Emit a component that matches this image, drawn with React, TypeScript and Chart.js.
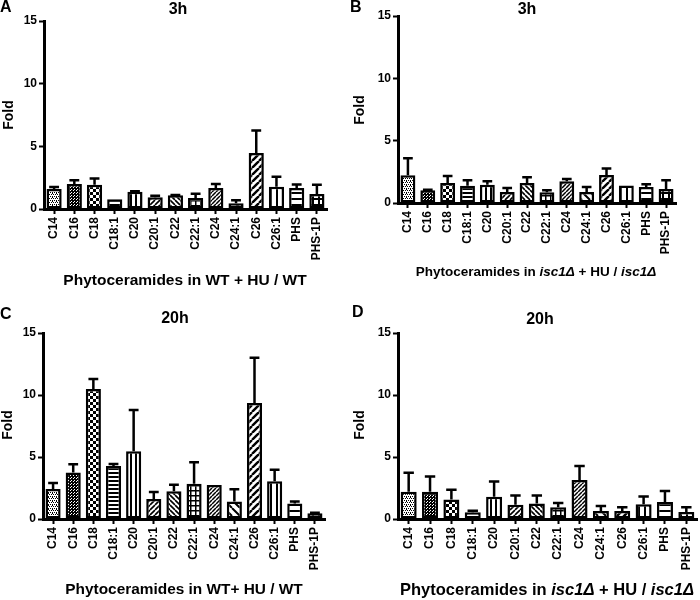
import React, { useEffect, useRef } from 'react';
import { Chart, registerables } from 'chart.js';

Chart.register(...registerables);

// ---------------- data ----------------
const categories = ['C14', 'C16', 'C18', 'C18:1', 'C20', 'C20:1', 'C22', 'C22:1', 'C24', 'C24:1', 'C26', 'C26:1', 'PHS', 'PHS-1P'];
const yTickValues = [0, 5, 10, 15];

// Panel A: WT + HU / WT, 3h
const wt3hMean = [1.59, 2.0, 1.94, 0.77, 1.38, 0.93, 1.09, 0.88, 1.67, 0.45, 4.46, 1.78, 1.67, 1.2];
const wt3hErr = [0.16, 0.3, 0.5, 0, 0.03, 0.13, 0.02, 0.34, 0.33, 0.24, 1.81, 0.8, 0.29, 0.74];

// Panel B: isc1Δ + HU / isc1Δ, 3h
const isc3hMean = [2.22, 1.02, 1.61, 1.39, 1.47, 0.88, 1.61, 0.86, 1.74, 0.88, 2.25, 1.4, 1.29, 1.12];
const isc3hErr = [1.37, 0.05, 0.56, 0.43, 0.27, 0.32, 0.45, 0.16, 0.19, 0.41, 0.51, 0, 0.21, 0.7];

// Panel C: WT + HU / WT, 20h
const wt20hMean = [2.42, 3.76, 10.48, 4.27, 5.46, 1.61, 2.23, 2.85, 2.74, 1.42, 9.35, 3.04, 1.26, 0.46];
const wt20hErr = [0.48, 0.65, 0.81, 0.17, 3.33, 0.57, 0.54, 1.72, 0, 0.97, 3.66, 0.94, 0.16, 0.04];

// Panel D: isc1Δ + HU / isc1Δ, 20h
const isc20hMean = [2.2, 2.2, 1.58, 0.54, 1.8, 1.15, 1.26, 0.94, 3.14, 0.64, 0.64, 1.18, 1.37, 0.56];
const isc20hErr = [1.53, 1.23, 0.78, 0.13, 1.23, 0.75, 0.64, 0.35, 1.13, 0.41, 0.3, 0.64, 0.88, 0.38];

// ---------------- styling ----------------
const FONT = '"Liberation Sans", Arial, Helvetica, sans-serif';
Chart.defaults.font.family = FONT;
Chart.defaults.font.weight = 'bold' as any;
Chart.defaults.font.size = 12;
Chart.defaults.color = '#000';

const patternKinds = ['stipple', 'dense', 'checker', 'hlines', 'vlines', 'diagF', 'diagB', 'grid', 'diagFDense', 'diagBSparse', 'diagFSparse', 'vlinesWide', 'hlinesWide', 'gridWide'];

type Run = { text: string; italic?: boolean };

function tile(w: number, h: number, draw: (g: CanvasRenderingContext2D) => void): CanvasPattern {
  const c = document.createElement('canvas');
  c.width = w;
  c.height = h;
  const g = c.getContext('2d')!;
  g.fillStyle = '#fff';
  g.fillRect(0, 0, w, h);
  g.fillStyle = '#000';
  g.strokeStyle = '#000';
  draw(g);
  return g.createPattern(c, 'repeat')!;
}

function diag(s: number, lw: number, forward: boolean) {
  return tile(s, s, (g) => {
    g.lineWidth = lw;
    g.beginPath();
    for (const o of [-s, 0, s]) {
      if (forward) {
        g.moveTo(o, s);
        g.lineTo(o + s, 0);
      } else {
        g.moveTo(o, 0);
        g.lineTo(o + s, s);
      }
    }
    g.stroke();
  });
}

function makePattern(kind: string): CanvasPattern {
  switch (kind) {
    case 'stipple':
      return tile(4, 4, (g) => {
        g.fillRect(0, 0, 1, 1);
        g.fillRect(2, 0, 1, 1);
        g.fillRect(1, 2, 1, 1);
        g.fillRect(3, 2, 1, 1);
        g.fillRect(0, 1, 1, 1);
      });
    case 'dense':
      return tile(3, 3, (g) => {
        g.fillRect(0, 0, 3, 3);
        g.fillStyle = '#fff';
        g.fillRect(1, 1, 1, 1);
        g.fillRect(2, 0, 1, 1);
      });
    case 'checker':
      return tile(6, 6, (g) => {
        g.fillRect(0, 0, 3, 3);
        g.fillRect(3, 3, 3, 3);
      });
    case 'hlines':
      return tile(4, 4, (g) => g.fillRect(0, 0, 4, 2));
    case 'vlines':
      return tile(5, 5, (g) => g.fillRect(0, 0, 2, 5));
    case 'diagF':
      return diag(5, 1.6, true);
    case 'diagB':
      return diag(5, 1.6, false);
    case 'grid':
      return tile(5, 5, (g) => {
        g.fillRect(0, 0, 5, 1.5);
        g.fillRect(0, 0, 1.5, 5);
      });
    case 'diagFDense':
      return diag(4, 1.5, true);
    case 'diagBSparse':
      return diag(8, 2, false);
    case 'diagFSparse':
      return diag(7, 2.4, true);
    case 'vlinesWide':
      return tile(6, 6, (g) => g.fillRect(0, 0, 2, 6));
    case 'hlinesWide':
      return tile(6, 6, (g) => g.fillRect(0, 0, 6, 2));
    case 'gridWide':
    default:
      return tile(6, 6, (g) => {
        g.fillRect(0, 0, 6, 2);
        g.fillRect(0, 0, 2, 6);
      });
  }
}

type PanelDef = {
  left: number; top: number; right: number; bottom: number; // chart area inside the 350x300 canvas
  posX: number; posY: number;
  values: number[]; errors: number[];
  letter: string; letterX: number; letterY: number;
  title: string; titleX: number; titleY: number;
  foldX: number; foldY: number;
  xTitle: Run[]; xTitleX: number; xTitleY: number; xTitleSize: number;
};

const wtRuns: Run[] = [{ text: 'Phytoceramides in WT + HU / WT' }];
const wtRuns2: Run[] = [{ text: 'Phytoceramides in WT+ HU / WT' }];
const iscRuns: Run[] = [
  { text: 'Phytoceramides in ' },
  { text: 'isc1Δ', italic: true },
  { text: ' + HU / ' },
  { text: 'isc1Δ', italic: true },
];

const panels: PanelDef[] = [
  {
    posX: 0, posY: 0, left: 44, top: 21, right: 327, bottom: 209,
    values: wt3hMean, errors: wt3hErr,
    letter: 'A', letterX: 0, letterY: 0,
    title: '3h', titleX: 178, titleY: 10,
    foldX: 9, foldY: 115,
    xTitle: wtRuns, xTitleX: 185, xTitleY: 281, xTitleSize: 15.5,
  },
  {
    posX: 350, posY: 0, left: 48, top: 16, right: 326, bottom: 203,
    values: isc3hMean, errors: isc3hErr,
    letter: 'B', letterX: 0, letterY: 0,
    title: '3h', titleX: 177, titleY: 10,
    foldX: 10, foldY: 110,
    xTitle: iscRuns, xTitleX: 186, xTitleY: 272, xTitleSize: 13.5,
  },
  {
    posX: 0, posY: 300, left: 43, top: 33, right: 325, bottom: 219,
    values: wt20hMean, errors: wt20hErr,
    letter: 'C', letterX: 0, letterY: 7,
    title: '20h', titleX: 175, titleY: 19,
    foldX: 8, foldY: 125,
    xTitle: wtRuns2, xTitleX: 184, xTitleY: 290, xTitleSize: 15.4,
  },
  {
    posX: 350, posY: 300, left: 48, top: 33, right: 347, bottom: 219,
    values: isc20hMean, errors: isc20hErr,
    letter: 'D', letterX: 2, letterY: 5,
    title: '20h', titleX: 190, titleY: 20,
    foldX: 10, foldY: 125,
    xTitle: iscRuns, xTitleX: 197, xTitleY: 290, xTitleSize: 16.5,
  },
];

const W = 350;
const H = 300;
const Y_W = 40;
const X_H = 70;

function Panel({ def }: { def: PanelDef }) {
  const ref = useRef<HTMLCanvasElement | null>(null);

  useEffect(() => {
    const canvas = ref.current;
    if (!canvas) return;
    const fills = patternKinds.map(makePattern);

    const errPlugin = {
      id: 'errbars',
      afterDatasetsDraw(chart: any) {
        const ctx = chart.ctx as CanvasRenderingContext2D;
        const meta = chart.getDatasetMeta(0);
        const ys = chart.scales.y;
        ctx.save();
        ctx.strokeStyle = '#000';
        ctx.lineWidth = 2.5;
        ctx.lineCap = 'butt';
        meta.data.forEach((el: any, i: number) => {
          const e = def.errors[i];
          if (!e) return;
          const top = ys.getPixelForValue(def.values[i] + e);
          const capW = el.width * 0.65;
          ctx.beginPath();
          ctx.moveTo(el.x, el.y);
          ctx.lineTo(el.x, top);
          ctx.moveTo(el.x - capW / 2, top);
          ctx.lineTo(el.x + capW / 2, top);
          ctx.stroke();
        });
        ctx.restore();
      },
    };

    const annotPlugin = {
      id: 'annot',
      afterDraw(chart: any) {
        const ctx = chart.ctx as CanvasRenderingContext2D;
        ctx.save();
        ctx.fillStyle = '#000';
        ctx.font = `bold 16px ${FONT}`;
        ctx.textAlign = 'left';
        ctx.textBaseline = 'top';
        ctx.fillText(def.letter, def.letterX, def.letterY);

        ctx.font = `bold 16px ${FONT}`;
        ctx.textAlign = 'center';
        ctx.textBaseline = 'middle';
        ctx.fillText(def.title, def.titleX, def.titleY);

        ctx.save();
        ctx.translate(def.foldX, def.foldY);
        ctx.rotate(-Math.PI / 2);
        ctx.font = `bold 14px ${FONT}`;
        ctx.fillText('Fold', 0, 0);
        ctx.restore();

        const fontFor = (r: Run) => `${r.italic ? 'italic ' : ''}bold ${def.xTitleSize}px ${FONT}`;
        let total = 0;
        for (const r of def.xTitle) {
          ctx.font = fontFor(r);
          total += ctx.measureText(r.text).width;
        }
        let x = def.xTitleX - total / 2;
        ctx.textAlign = 'left';
        for (const r of def.xTitle) {
          ctx.font = fontFor(r);
          ctx.fillText(r.text, x, def.xTitleY);
          x += ctx.measureText(r.text).width;
        }
        ctx.restore();
      },
    };

    const tickFont = { family: FONT, size: 12, weight: 'bold' as any };

    const chart = new Chart(canvas, {
      type: 'bar',
      data: {
        labels: categories,
        datasets: [
          {
            data: def.values,
            backgroundColor: fills as any,
            borderColor: '#000',
            borderWidth: 2.5,
            borderSkipped: false,
            barPercentage: 0.75,
            categoryPercentage: 1,
          },
        ],
      },
      options: {
        responsive: false,
        maintainAspectRatio: false,
        animation: false,
        events: [],
        layout: {
          padding: {
            left: def.left - Y_W,
            top: def.top,
            right: W - def.right,
            bottom: H - def.bottom - X_H,
          },
        },
        plugins: {
          legend: { display: false },
          tooltip: { enabled: false },
          title: { display: false },
        },
        scales: {
          x: {
            offset: true,
            grid: {
              display: true,
              offset: false,
              drawOnChartArea: false,
              drawTicks: true,
              tickLength: 5,
              tickWidth: 2,
              tickColor: '#000',
            },
            border: { display: true, color: '#000', width: 3 },
            ticks: {
              autoSkip: false,
              minRotation: 90,
              maxRotation: 90,
              color: '#000',
              font: tickFont,
              padding: 3,
            },
            afterFit(s: any) {
              s.height = X_H;
              s.paddingLeft = 0;
              s.paddingRight = 0;
            },
          },
          y: {
            min: yTickValues[0],
            max: yTickValues[yTickValues.length - 1],
            afterBuildTicks(s: any) {
              s.ticks = yTickValues.map((v) => ({ value: v }));
            },
            ticks: {
              color: '#000',
              font: tickFont,
              padding: 2,
            },
            grid: {
              display: true,
              drawOnChartArea: false,
              drawTicks: true,
              tickLength: 5,
              tickWidth: 2,
              tickColor: '#000',
            },
            border: { display: true, color: '#000', width: 3 },
            afterFit(s: any) {
              s.width = Y_W;
              s.paddingTop = 0;
              s.paddingBottom = 0;
            },
          },
        },
      } as any,
      plugins: [errPlugin, annotPlugin],
    });

    return () => chart.destroy();
  }, [def]);

  return (
    <canvas
      ref={ref}
      width={W}
      height={H}
      style={{ position: 'absolute', left: def.posX, top: def.posY, width: W, height: H }}
    />
  );
}

export default function App() {
  return (
    <div style={{ position: 'absolute', left: 0, top: 0, width: 700, height: 600, background: '#fff', overflow: 'hidden' }}>
      {panels.map((p) => (
        <Panel key={p.letter} def={p} />
      ))}
    </div>
  );
}
